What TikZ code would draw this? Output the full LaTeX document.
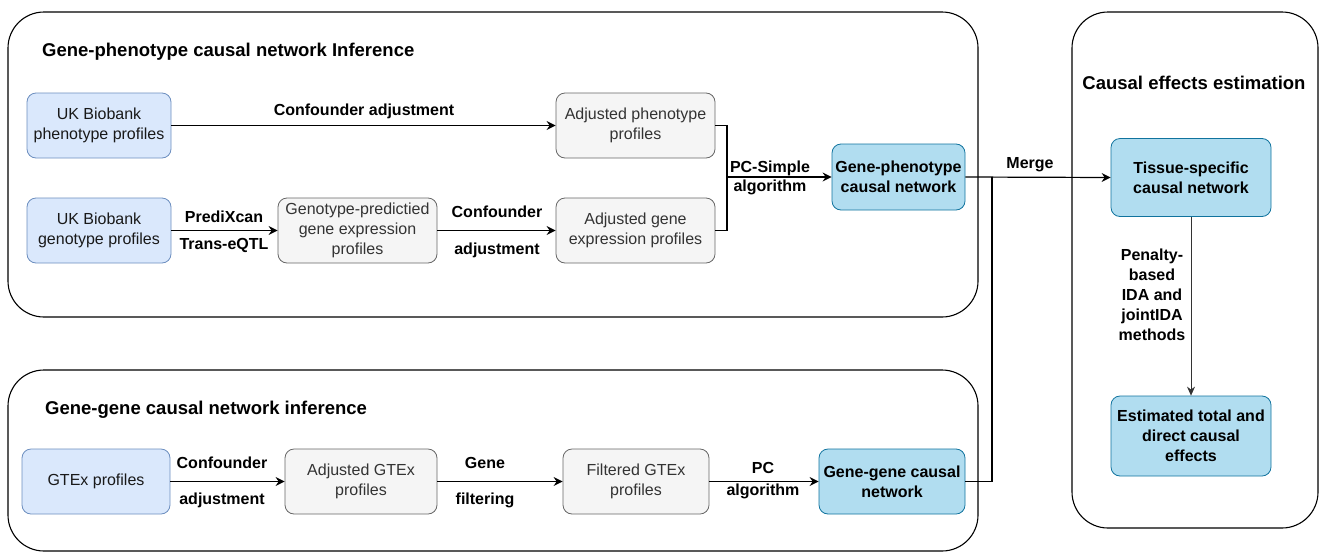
\documentclass[tikz,border=0pt]{standalone}
\usepackage{fontspec}
\setmainfont{Liberation Sans}
\usetikzlibrary{arrows.meta}
\definecolor{lbfill}{HTML}{DAE8FC}
\definecolor{lbdraw}{HTML}{6C8EBF}
\definecolor{gfill}{HTML}{F5F5F5}
\definecolor{gdraw}{HTML}{666666}
\definecolor{gtext}{HTML}{333333}
\definecolor{dbfill}{HTML}{B1DDF0}
\definecolor{dbdraw}{HTML}{10739E}
\begin{document}
\begin{tikzpicture}[x=1pt,y=-1pt,
  container/.style={draw=black, line width=1.1pt, rounded corners=36pt},
  boxbase/.style={rounded corners=9pt, align=center, inner sep=2pt, line width=0.8pt,
     font=\fontsize{16}{20}\selectfont},
  bluebox/.style={boxbase, draw=lbdraw, fill=lbfill, text=black!90},
  graybox/.style={boxbase, draw=gdraw, fill=gfill, text=gtext},
  darkbox/.style={boxbase, draw=dbdraw, fill=dbfill, text=black, font=\fontsize{16}{20}\selectfont\bfseries},
  lbl/.style={font=\fontsize{16}{19}\selectfont\bfseries, align=center, inner sep=1pt},
  title/.style={font=\fontsize{18.5}{22}\selectfont\bfseries, anchor=west, inner sep=0pt},
  arr/.style={-{Stealth[length=9pt,width=9pt,inset=3pt]}, line width=1.2pt, black},
  ln/.style={line width=1.2pt, black}
]
\useasboundingbox (0,0) rectangle (1319,552);
% containers
\draw[container] (8,12) rectangle (978,317);
\draw[container] (8,370) rectangle (978,551);
\draw[container] (1072,12) rectangle (1318,528);
\node[title] (t1) at (42,52) {Gene-phenotype causal network Inference};
\node[title] (t2) at (45,410) {Gene-gene causal network inference};
\node[title, anchor=center] (t3) at (1194,83) {Causal effects estimation};
% top nodes
\node[bluebox, minimum width=144pt, minimum height=65pt] (A) at (99,125.5) {UK Biobank\\phenotype profiles};
\node[bluebox, minimum width=144pt, minimum height=65pt] (B) at (99,230.5) {UK Biobank\\genotype profiles};
\node[graybox, minimum width=159pt, minimum height=65pt] (C) at (357.5,230.5) {Genotype-predictied\\gene expression\\profiles};
\node[graybox, minimum width=159pt, minimum height=65pt] (D) at (635.5,125.5) {Adjusted phenotype\\profiles};
\node[graybox, minimum width=159pt, minimum height=65pt] (E) at (635.5,230.5) {Adjusted gene\\expression profiles};
\node[darkbox, minimum width=133pt, minimum height=66pt] (F) at (898.5,177) {Gene-phenotype\\causal network};
% right nodes
\node[darkbox, minimum width=160pt, minimum height=78pt] (G) at (1191,177.5) {Tissue-specific\\causal network};
\node[darkbox, minimum width=160pt, minimum height=80pt] (H) at (1191,436) {Estimated total and\\direct causal\\effects};
% bottom nodes
\node[bluebox, minimum width=148pt, minimum height=65pt] (I) at (96,481.5) {GTEx profiles};
\node[graybox, minimum width=152pt, minimum height=65pt] (J) at (361,481.5) {Adjusted GTEx\\profiles};
\node[graybox, minimum width=146pt, minimum height=65pt] (K) at (636,481.5) {Filtered GTEx\\profiles};
\node[darkbox, minimum width=146pt, minimum height=65pt] (L) at (892,481.5) {Gene-gene causal\\network};
% coordinates
\coordinate (pcx) at (727,177);
\coordinate (mx) at (992,177);
% top edges
\draw[arr] (A.east) -- (D.west);
\node[lbl] (lA) at (364,111) {Confounder adjustment};
\draw[arr] (B.east) -- (C.west);
\node[lbl] (lB1) at (224,217) {PrediXcan};
\node[lbl] (lB2) at (224,245) {Trans-eQTL};
\draw[arr] (C.east) -- (E.west);
\node[lbl] (lC1) at (497,212) {Confounder};
\node[lbl] (lC2) at (497,250) {adjustment};
\draw[ln] (D.east) -| (pcx) |- (E.east);
\draw[arr] (pcx) -- (F.west);
\node[lbl] (lF1) at (770,168) {PC-Simple};
\node[lbl] (lF2) at (770,187) {algorithm};
% merge
\draw[arr] (F.east) -- (G.west);
\draw[ln] (L.east) -| (mx);
\node[lbl] (lM) at (1030,165) {Merge};
% right edge
\draw[-{Stealth[length=9pt,width=8pt,inset=3pt]}, line width=0.7pt, black!80] (G.south) -- (H.north);
\node[lbl, font=\fontsize{16}{20}\selectfont\bfseries] (lG) at (1152,295) {Penalty-\\based\\IDA and\\jointIDA\\methods};
% bottom edges
\draw[arr] (I.east) -- (J.west);
\node[lbl] (lI1) at (222,463) {Confounder};
\node[lbl] (lI2) at (222,500) {adjustment};
\draw[arr] (J.east) -- (K.west);
\node[lbl] (lJ1) at (485,463) {Gene};
\node[lbl] (lJ2) at (485,500) {filtering};
\draw[arr] (K.east) -- (L.west);
\node[lbl] (lK1) at (763,468) {PC};
\node[lbl] (lK2) at (763,491) {algorithm};
\end{tikzpicture}
\end{document}
